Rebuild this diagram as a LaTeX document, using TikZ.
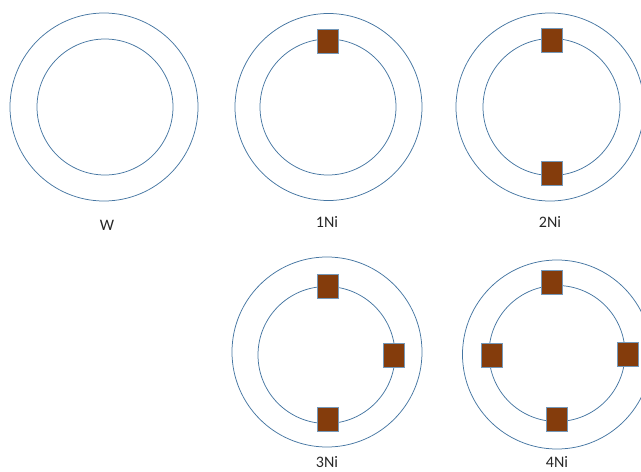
\documentclass[tikz,border=0pt]{standalone}
\usepackage{fontspec}
\setmainfont{Carlito}
\definecolor{ringblue}{RGB}{70,118,162}
\definecolor{nibrown}{RGB}{132,60,12}

\begin{document}
\begin{tikzpicture}[x=1pt, y=-1pt,
    ring/.style={draw=ringblue, line width=0.75pt},
    atom/.style={draw=ringblue!75, fill=nibrown, line width=0.8pt,
                 minimum width=21pt, minimum height=24pt, inner sep=0pt},
    lbl/.style={font=\fontsize{16}{18}\selectfont, text=black!85}]
    \useasboundingbox (0,0) rectangle (641,472);

    % W
    \draw[ring] (104,107) circle (94pt);
    \draw[ring] (105,107) circle (68pt);
    \node[lbl] (lw) at (107,225) {W};

    % 1Ni
    \draw[ring] (328.5,107) circle (93.5pt);
    \draw[ring] (328,107) circle (68pt);
    \node[atom] (a1t) at (328,41.5) {};
    \node[lbl] (l1) at (327,222) {1Ni};

    % 2Ni
    \draw[ring] (550,107) circle (94pt);
    \draw[ring] (551.5,107) circle (68.5pt);
    \node[atom] (a2t) at (552,40.5) {};
    \node[atom] (a2b) at (552,173.5) {};
    \node[lbl] (l2) at (550,222) {2Ni};

    % 3Ni
    \draw[ring] (327,352) circle (95pt);
    \draw[ring] (326.5,355) circle (68.5pt);
    \node[atom] (a3t) at (328,286) {};
    \node[atom] (a3r) at (393.5,355) {};
    \node[atom] (a3b) at (328,419) {};
    \node[lbl] (l3) at (327,462) {3Ni};

    % 4Ni
    \draw[ring] (557,354.5) circle (94.5pt);
    \draw[ring] (557,353.5) circle (68pt);
    \node[atom] (a4t) at (552,282.5) {};
    \node[atom] (a4l) at (491.5,355) {};
    \node[atom] (a4r) at (627.5,354.5) {};
    \node[atom] (a4b) at (557,419.5) {};
    \node[lbl] (l4) at (557,462) {4Ni};
\end{tikzpicture}
\end{document}
